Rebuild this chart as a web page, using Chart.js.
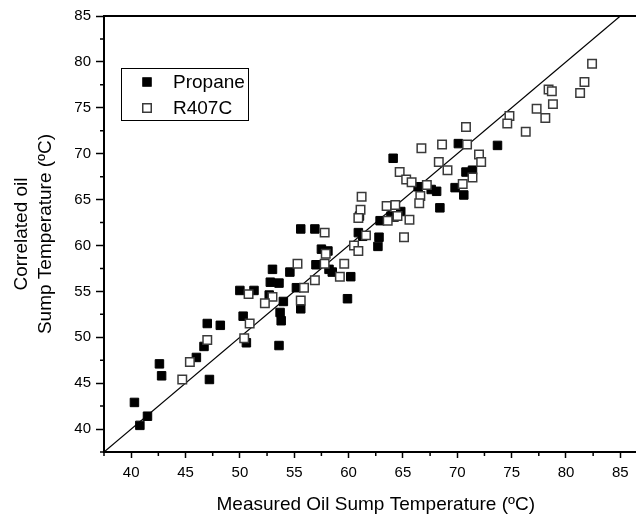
<!DOCTYPE html>
<html lang="en">
<head>
<meta charset="UTF-8">
<title>Correlated vs Measured Oil Sump Temperature</title>
<script src="https://cdn.jsdelivr.net/npm/chart.js"></script>
<style>
  body { margin: 0; background: #fff; overflow: hidden; }
  #wrap { width: 650px; height: 525px; }
</style>
</head>
<body>
<div id="wrap"><canvas id="chart" width="650" height="525"></canvas></div>
<script>
// measured (x) / correlated (y) oil sump temperature, ºC
const propaneX = [40.3, 40.8, 41.5, 42.6, 42.8, 46.0, 46.7, 47.0, 48.2, 47.2,
  50.3, 50.6, 50.0, 51.3, 53.0, 54.6, 52.8, 53.6, 52.7, 54.0,
  53.7, 53.8, 53.6, 55.2, 55.6, 57.5, 58.1, 57.0, 58.2, 58.5,
  60.2, 59.9, 55.6, 56.9, 61.0, 60.9, 61.3, 62.8, 62.7, 62.9,
  63.9, 64.8, 64.2, 64.1, 66.4, 67.6, 68.1, 68.4, 70.1, 73.7,
  70.8, 71.4, 69.8, 70.6];
const propaneY = [42.9, 40.4, 41.4, 47.1, 45.8, 47.8, 49.0, 51.5, 51.3, 45.4,
  52.3, 49.4, 55.1, 55.1, 57.4, 57.1, 56.0, 55.9, 54.6, 53.9,
  52.7, 51.8, 49.1, 55.4, 53.1, 59.6, 59.4, 57.9, 57.4, 57.1,
  56.6, 54.2, 61.8, 61.8, 63.2, 61.4, 61.0, 60.9, 59.9, 62.7,
  63.2, 63.7, 63.1, 69.5, 66.4, 66.1, 65.9, 64.1, 71.1, 70.9,
  68.0, 68.2, 66.3, 65.5];

const r407cX = [45.4, 44.7, 47.0, 50.9, 50.4, 50.8, 55.3, 53.0, 52.3, 55.9,
  55.6, 57.9, 57.8, 56.9, 59.2, 59.6, 60.5, 57.8, 61.2, 61.1,
  60.9, 61.6, 60.9, 65.1, 63.6, 63.5, 64.3, 64.5, 65.6, 64.7,
  65.3, 65.8, 67.2, 66.6, 66.5, 68.3, 66.7, 68.6, 70.8, 70.9,
  74.8, 74.6, 76.3, 72.0, 72.2, 69.1, 71.4, 70.5, 82.4, 81.7,
  81.3, 78.4, 78.7, 78.8, 77.3, 78.1];
const r407cY = [47.3, 45.4, 49.7, 51.5, 49.9, 54.7, 58.0, 54.4, 53.7, 55.4,
  54.0, 59.1, 58.0, 56.2, 56.6, 58.0, 60.0, 61.4, 65.3, 63.9,
  63.0, 61.1, 59.4, 60.9, 62.7, 64.3, 64.4, 63.2, 62.8, 68.0,
  67.2, 66.9, 66.6, 65.4, 64.6, 69.1, 70.6, 71.0, 72.9, 71.0,
  74.1, 73.3, 72.4, 69.9, 69.1, 68.2, 67.4, 66.7, 79.8, 77.8,
  76.6, 77.0, 76.8, 75.4, 74.9, 73.9];

// y = x reference line
const lineX = [37.5, 85];
const lineY = [37.5, 85];

const xTicks = [40, 45, 50, 55, 60, 65, 70, 75, 80, 85];
const yTicks = [40, 45, 50, 55, 60, 65, 70, 75, 80, 85];

const toPoints = (xs, ys) => xs.map((x, i) => ({ x: x, y: ys[i] }));
const fontFamily = '"Liberation Sans", Arial, sans-serif';

// short ticks between the labelled ones, plus the top frame line
const framePlugin = {
  id: 'frame',
  afterDraw(chart) {
    const { ctx, chartArea: a, scales: { x, y } } = chart;
    ctx.save();
    ctx.strokeStyle = '#000';
    ctx.lineWidth = 1.5;
    ctx.beginPath();
    for (let v = 37.5; v <= 87.5; v += 5) {
      const px = x.getPixelForValue(v);
      ctx.moveTo(px, a.bottom);
      ctx.lineTo(px, a.bottom + 4);
    }
    for (let v = 37.5; v <= 85; v += 5) {
      const py = y.getPixelForValue(v);
      ctx.moveTo(a.left, py);
      ctx.lineTo(a.left - 4, py);
    }
    ctx.stroke();
    ctx.lineWidth = 2;
    ctx.beginPath();
    ctx.moveTo(a.left - 1, a.top);
    ctx.lineTo(a.right, a.top);
    ctx.stroke();
    ctx.restore();
  }
};

// legend box inside the plot
const boxLegend = {
  id: 'boxLegend',
  afterDraw(chart) {
    const ctx = chart.ctx;
    const items = chart.data.datasets.filter(d => d.label);
    ctx.save();
    ctx.fillStyle = '#fff';
    ctx.fillRect(121, 68, 127, 52);
    ctx.strokeStyle = '#000';
    ctx.lineWidth = 1;
    ctx.strokeRect(121.5, 68.5, 127, 52);
    ctx.font = '19px ' + fontFamily;
    ctx.textBaseline = 'middle';
    items.forEach((d, i) => {
      const cy = 82 + i * 26;
      const s = 8.5;
      ctx.fillStyle = d.backgroundColor;
      ctx.fillRect(147 - s / 2, cy - s / 2, s, s);
      ctx.strokeStyle = d.borderColor;
      ctx.lineWidth = d.borderWidth;
      ctx.strokeRect(147 - s / 2, cy - s / 2, s, s);
      ctx.fillStyle = '#000';
      ctx.fillText(d.label, 173, cy + 1);
    });
    ctx.restore();
  }
};

const axisFont = { family: fontFamily, size: 15 };
const titleFont = { family: fontFamily, size: 19, lineHeight: 1.3 };

new Chart(document.getElementById('chart'), {
  type: 'scatter',
  data: {
    datasets: [
      {
        label: 'Propane',
        data: toPoints(propaneX, propaneY),
        pointStyle: 'rect',
        radius: 6,
        backgroundColor: '#000',
        borderColor: '#000',
        borderWidth: 1,
        order: 1
      },
      {
        label: 'R407C',
        data: toPoints(r407cX, r407cY),
        pointStyle: 'rect',
        radius: 6,
        backgroundColor: '#fff',
        borderColor: '#3a3a3a',
        borderWidth: 1.5,
        order: 0
      },
      {
        type: 'line',
        data: toPoints(lineX, lineY),
        borderColor: '#000',
        borderWidth: 1.2,
        pointRadius: 0,
        fill: false,
        order: 2
      }
    ]
  },
  options: {
    responsive: false,
    animation: false,
    devicePixelRatio: 1,
    events: [],
    layout: { autoPadding: false, padding: { left: 0, top: 16, right: 2.5, bottom: 0 } },
    plugins: { legend: { display: false }, tooltip: { enabled: false } },
    scales: {
      x: {
        type: 'linear',
        min: 37.5,
        max: 87.5,
        afterBuildTicks: s => { s.ticks = xTicks.map(v => ({ value: v })); },
        afterFit: s => { s.height = 73; },
        grid: { drawOnChartArea: false, drawTicks: true, tickLength: 6, tickColor: '#000', tickWidth: 1.5 },
        border: { display: true, color: '#000', width: 2 },
        ticks: { color: '#000', font: axisFont, padding: 6, maxRotation: 0, autoSkip: false },
        title: {
          display: true,
          text: 'Measured Oil Sump Temperature (ºC)',
          color: '#000',
          font: titleFont,
          padding: { top: 0, bottom: 8 }
        }
      },
      y: {
        type: 'linear',
        min: 37.5,
        max: 85,
        afterBuildTicks: s => { s.ticks = yTicks.map(v => ({ value: v })); },
        afterFit: s => { s.width = 104; },
        grid: { drawOnChartArea: false, drawTicks: true, tickLength: 8, tickColor: '#000', tickWidth: 1.5 },
        border: { display: true, color: '#000', width: 2 },
        ticks: { color: '#000', font: axisFont, padding: 5, autoSkip: false },
        title: {
          display: true,
          text: ['Correlated oil', 'Sump Temperature (ºC)'],
          color: '#000',
          font: titleFont,
          padding: { top: 9, bottom: 0 }
        }
      }
    }
  },
  plugins: [framePlugin, boxLegend]
});
</script>
</body>
</html>
